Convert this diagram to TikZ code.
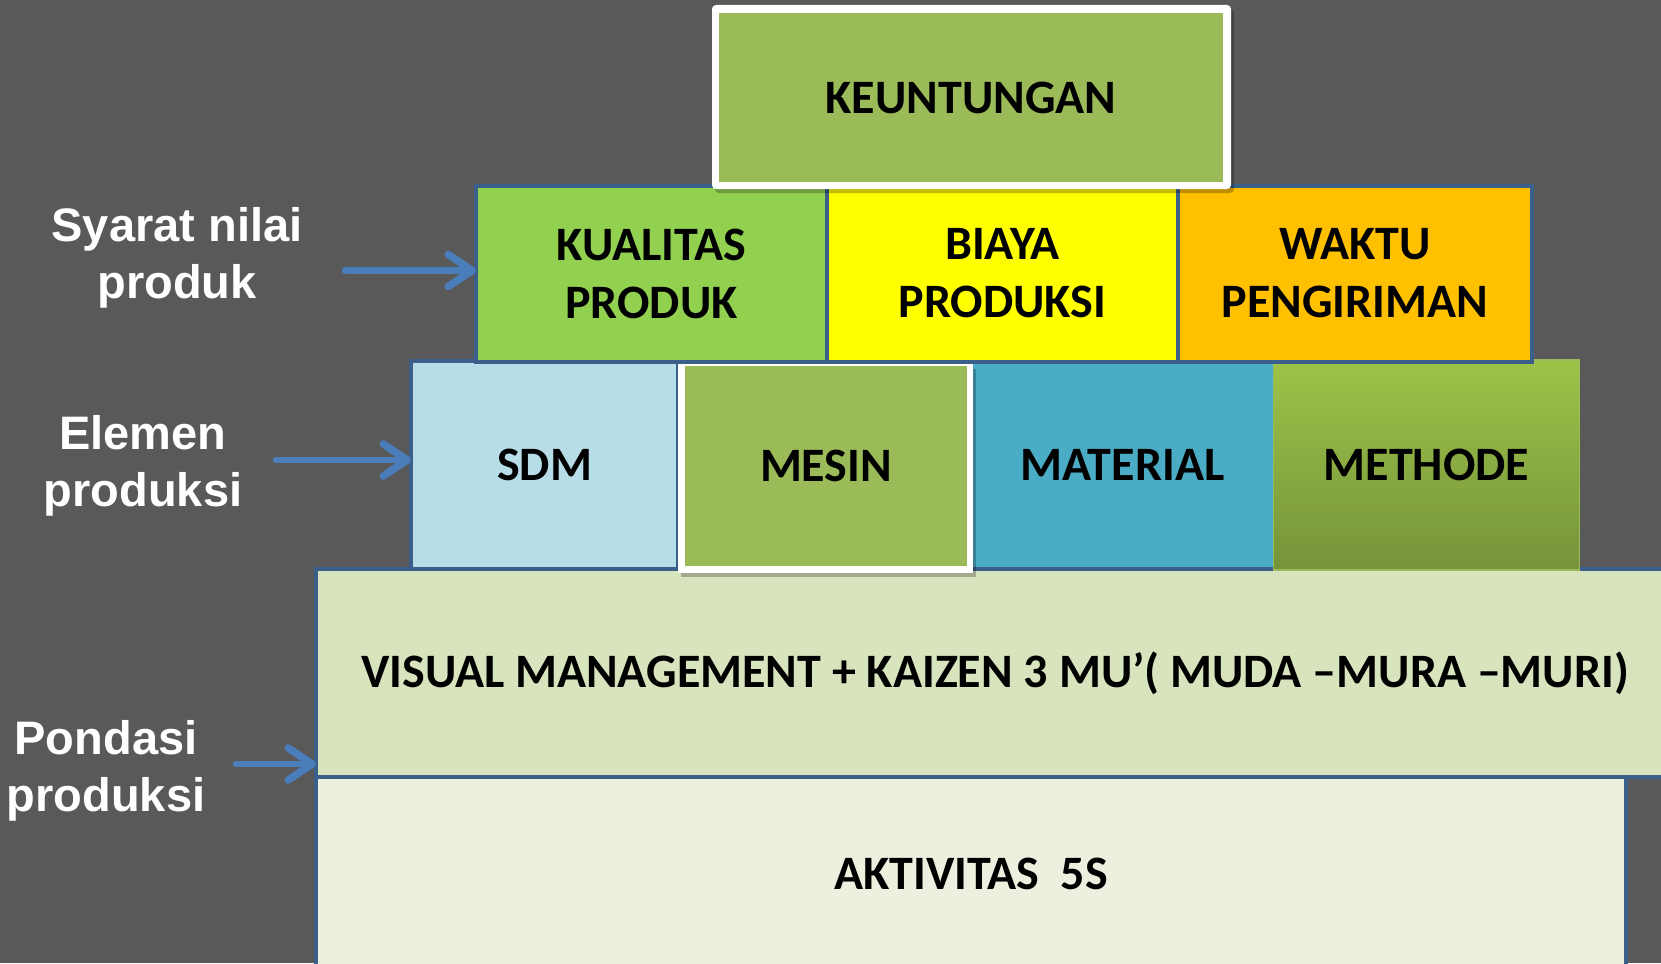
\documentclass[tikz,border=0pt]{standalone}
\usepackage{fontspec}
\setmainfont{Carlito}
\newfontfamily\labfont{Liberation Sans}
\usetikzlibrary{arrows.meta,calc}
\definecolor{bg}{HTML}{595959}
\definecolor{keuc}{HTML}{9BBB59}
\definecolor{kualc}{HTML}{92D050}
\definecolor{biayac}{HTML}{FFFF00}
\definecolor{waktuc}{HTML}{FFC000}
\definecolor{sdmc}{HTML}{B7DEE8}
\definecolor{matc}{HTML}{4BACC6}
\definecolor{visc}{HTML}{D7E4BD}
\definecolor{aktc}{HTML}{EBF1DE}
\definecolor{bord}{HTML}{3A5F8B}
\definecolor{arrc}{HTML}{4A7EBB}
\definecolor{mettop}{HTML}{9DC348}
\definecolor{metbot}{HTML}{76933A}
\tikzset{
  cell/.style={rectangle, inner sep=0pt, outer sep=0pt, align=center,
    font=\fontsize{48}{58}\selectfont\bfseries, text=black},
  bcell/.style={cell, draw=bord, line width=4pt},
  lab/.style={inner sep=0pt, align=center, text=white,
    font=\labfont\fontsize{47}{57}\selectfont\bfseries},
  arr/.style={draw=arrc, line width=6.5pt, line cap=round,
    -{Straight Barb[length=24pt,width=32pt,line width=7.5pt,round]}},
  shadow/.style={fill=black, opacity=0.25}
}
\begin{document}
\begin{tikzpicture}[x=1pt,y=-1pt]
\useasboundingbox[fill=bg] (0,0) rectangle (1661,963);
% foundation
\node[bcell, fill=aktc, minimum width=1310pt, minimum height=194pt] (akt) at (971,874) {AKTIVITAS\ \ 5S};
\node[bcell, fill=visc, minimum width=1358pt, minimum height=208pt] (vis) at (995,673)
  {VISUAL MANAGEMENT + KAIZEN 3 MU’( MUDA –MURA –MURI)};
% elements
\node[bcell, fill=sdmc, minimum width=267pt, minimum height=208pt] (sdm) at (544.5,465) {SDM};
\node[bcell, fill=matc, minimum width=305pt, minimum height=208pt] (mat) at (1122.5,465) {MATERIAL};
\node[cell, top color=mettop, bottom color=metbot, draw=keuc, line width=1.5pt,
  minimum width=306pt, minimum height=210pt] (met) at (1426.5,465) {METHODE};
\fill[shadow] (680.5,369) rectangle (975.5,577);
\node[cell, fill=white, minimum width=295pt, minimum height=210pt] (mesf) at (825,468) {};
\node[cell, fill=keuc, minimum width=282pt, minimum height=200pt] (mes) at (826,466) {MESIN};
% requirements
\node[bcell, fill=kualc, minimum width=351pt, minimum height=176pt] (kual) at (651.5,273.5) {KUALITAS\\PRODUK};
\node[bcell, fill=biayac, minimum width=351pt, minimum height=176pt] (biaya) at (1002.5,273.5) {BIAYA\\PRODUKSI};
\node[bcell, fill=waktuc, minimum width=354pt, minimum height=176pt] (waktu) at (1355,273.5) {WAKTU\\PENGIRIMAN};
% top
\fill[shadow, rounded corners=4pt] (715,9) rectangle (1234,193);
\node[cell, fill=white, rounded corners=4pt, minimum width=519pt, minimum height=184pt] (keuf) at (971.5,97) {};
\node[cell, fill=keuc, minimum width=504pt, minimum height=169pt] (keu) at (971,97.5) {KEUNTUNGAN};
% labels
\node[lab] (l1) at (177,258) {Syarat nilai\\produk};
\node[lab] (l2) at (143,466) {Elemen\\produksi};
\node[lab] (l3) at (106,771) {Pondasi\\produksi};
\coordinate (s1) at (345,270.5);
\coordinate (s2) at (276,460);
\coordinate (s3) at (236,764);
\draw[arr] (s1) -- (s1 -| kual.west);
\draw[arr] (s2) -- (s2 -| sdm.west);
\draw[arr] (s3) -- (s3 -| vis.west);
\end{tikzpicture}
\end{document}
